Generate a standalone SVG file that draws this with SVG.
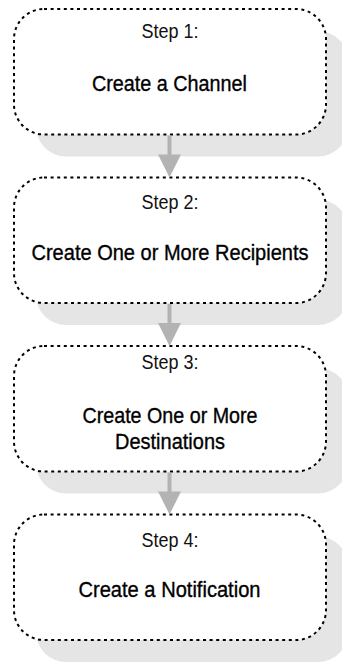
<svg xmlns="http://www.w3.org/2000/svg" width="342" height="663" viewBox="0 0 342 663">
<style>
.shadow{fill:#e5e5e5;stroke:none}
.box{fill:#fff;stroke:#000;stroke-width:2;stroke-dasharray:3 3.6}
.step{font-family:"Liberation Sans",Arial,sans-serif;font-size:20px;fill:#111;text-anchor:middle}
.main{font-family:"Liberation Sans",Arial,sans-serif;font-size:22px;fill:#000;stroke:#000;stroke-width:0.35;text-anchor:middle}
.shaft{stroke:#b3b3b3;stroke-width:4;fill:none}
.head{fill:#b3b3b3;stroke:none}
</style>
<g id="step1">
<rect class="shadow" x="36" y="31" width="312" height="125.5" rx="30" ry="30"/>
<rect class="box" x="14" y="9" width="312" height="125.5" rx="30" ry="30"/>
<text class="step" x="170" y="38" textLength="57" lengthAdjust="spacingAndGlyphs">Step 1:</text>
<text class="main" x="169.5" y="91" textLength="155" lengthAdjust="spacingAndGlyphs">Create a Channel</text>
</g>
<g id="step2">
<rect class="shadow" x="36" y="199.5" width="312" height="125.5" rx="30" ry="30"/>
<rect class="box" x="14" y="177.5" width="312" height="125.5" rx="30" ry="30"/>
<text class="step" x="170" y="209" textLength="57" lengthAdjust="spacingAndGlyphs">Step 2:</text>
<text class="main" x="170" y="260" textLength="277" lengthAdjust="spacingAndGlyphs">Create One or More Recipients</text>
</g>
<g id="step3">
<rect class="shadow" x="36" y="368" width="312" height="125.5" rx="30" ry="30"/>
<rect class="box" x="14" y="346" width="312" height="125.5" rx="30" ry="30"/>
<text class="step" x="170" y="369" textLength="57" lengthAdjust="spacingAndGlyphs">Step 3:</text>
<text class="main" x="170" y="423" textLength="175" lengthAdjust="spacingAndGlyphs">Create One or More</text>
<text class="main" x="170" y="449" textLength="110" lengthAdjust="spacingAndGlyphs">Destinations</text>
</g>
<g id="step4">
<rect class="shadow" x="36" y="536.5" width="312" height="125.5" rx="30" ry="30"/>
<rect class="box" x="14" y="514.5" width="312" height="125.5" rx="30" ry="30"/>
<text class="step" x="170" y="547" textLength="57" lengthAdjust="spacingAndGlyphs">Step 4:</text>
<text class="main" x="169.5" y="597" textLength="182" lengthAdjust="spacingAndGlyphs">Create a Notification</text>
</g>
<g id="connectors">
<line class="shaft" x1="169.5" y1="135.5" x2="169.5" y2="155"/>
<polygon class="head" points="158,154.5 181,154.5 169.5,177.5"/>
<line class="shaft" x1="169.5" y1="304" x2="169.5" y2="323.5"/>
<polygon class="head" points="158,323 181,323 169.5,346"/>
<line class="shaft" x1="169.5" y1="472.5" x2="169.5" y2="492"/>
<polygon class="head" points="158,491.5 181,491.5 169.5,514.5"/>
</g>
</svg>
